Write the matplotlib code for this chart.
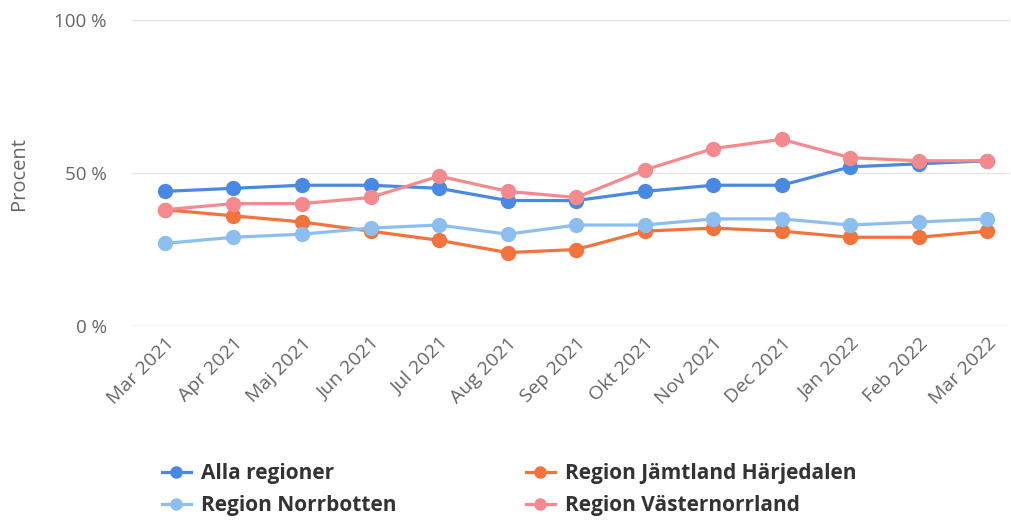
import matplotlib
matplotlib.use("Agg")
import matplotlib.pyplot as plt
from matplotlib.lines import Line2D

months = ["Mar 2021", "Apr 2021", "Maj 2021", "Jun 2021", "Jul 2021", "Aug 2021",
          "Sep 2021", "Okt 2021", "Nov 2021", "Dec 2021", "Jan 2022", "Feb 2022", "Mar 2022"]
alla = [44, 45, 46, 46, 45, 41, 41, 44, 46, 46, 52, 53, 54]
jamtland = [38, 36, 34, 31, 28, 24, 25, 31, 32, 31, 29, 29, 31]
norrbotten = [27, 29, 30, 32, 33, 30, 33, 33, 35, 35, 33, 34, 35]
vasternorrland = [38, 40, 40, 42, 49, 44, 42, 51, 58, 61, 55, 54, 54]
yticks = [0, 50, 100]
ytick_labels = ["0 %", "50 %", "100 %"]

series = [
    ("Alla regioner", alla, "#4a89e3"),
    ("Region Jämtland Härjedalen", jamtland, "#f2733b"),
    ("Region Norrbotten", norrbotten, "#8cbff0"),
    ("Region Västernorrland", vasternorrland, "#f48a8e"),
]

plt.rcParams['font.family'] = ['Open Sans', 'DejaVu Sans']

fig = plt.figure(figsize=(10.12, 5.2), dpi=100)
ax = fig.add_axes([132/1012, 1-326/520, 878/1012, 306/520])

x = list(range(len(months)))
order = [2, 1, 0, 3]
for i in order:
    name, vals, col = series[i]
    ax.plot(x, vals, color=col, lw=2.3, marker='o', markersize=10, zorder=3 + i)

ax.set_ylim(0, 100)
ax.set_xlim(-0.48, 12.33)
ax.set_yticks(yticks)
ax.set_yticklabels(ytick_labels)
ax.set_xticks(x)
ax.set_xticklabels(months, rotation=45, ha='right', rotation_mode='anchor')
for y in yticks:
    ax.axhline(y, color="#ccd6eb" if y == 0 else "#e6e6e6", lw=1, zorder=1)
for s in ax.spines.values():
    s.set_visible(False)
ax.tick_params(axis='both', length=0, colors="#666666")
ax.tick_params(axis='y', pad=18, labelsize=13.5)
ax.tick_params(axis='x', pad=6, labelsize=14)
ax.set_ylabel("Procent", color="#666666", fontsize=14.5, labelpad=18)

leg_order = [0, 2, 1, 3]
handles = [Line2D([0], [0], color=series[i][2], lw=2.3, marker='o', markersize=8) for i in leg_order]
labels = [series[i][0] for i in leg_order]
leg = fig.legend(handles, labels, ncol=2, loc='upper left', bbox_to_anchor=(149/1012, 1-451/520),
                 frameon=False, prop={'weight': 'bold', 'size': 15}, labelcolor="#333333",
                 columnspacing=6.2, handlelength=1.4, handletextpad=0.5, labelspacing=0.5,
                 borderpad=0.1)

fig.savefig("out.png", dpi=100)
